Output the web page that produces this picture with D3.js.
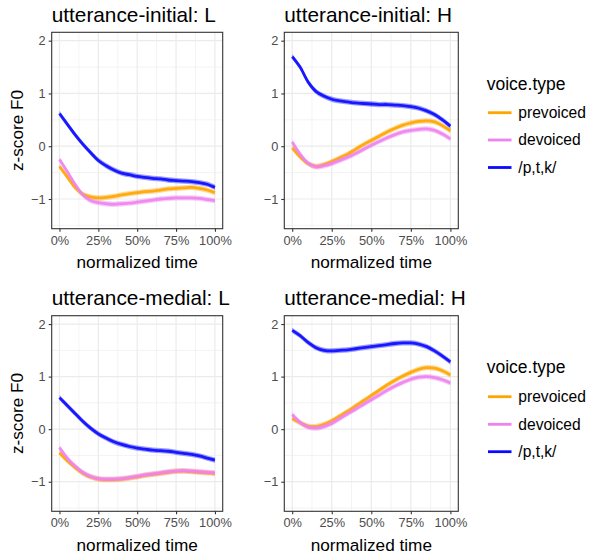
<!DOCTYPE html>
<html><head><meta charset="utf-8">
<script src="https://cdn.jsdelivr.net/npm/d3@7"></script>
<style>body{margin:0;background:#fff}svg{display:block}text{font-family:"Liberation Sans",Arial,sans-serif}</style>
</head><body><svg id="c" width="589" height="556"></svg>
<script>
const times = [0,5,10,15,20,25,30,35,40,45,50,55,60,65,70,75,80,85,90,95,100];
const seriesNames = ["prevoiced","devoiced","/p,t,k/"];
const seriesColors = ["#FFA500","#EE82EE","#0A0AFF"];
const panelTitles = ["utterance-initial: L","utterance-initial: H","utterance-medial: L","utterance-medial: H"];
const xTickValues = [0,25,50,75,100];
const xTickLabels = ["0%","25%","50%","75%","100%"];
const yTickValues = [-1,0,1,2];

// utterance-initial: L
const iniL_prevoiced = [-0.38,-0.58,-0.78,-0.91,-0.96,-0.98,-0.97,-0.95,-0.92,-0.90,-0.88,-0.86,-0.85,-0.83,-0.81,-0.80,-0.79,-0.78,-0.80,-0.83,-0.88];
const iniL_devoiced  = [-0.25,-0.48,-0.72,-0.92,-1.03,-1.07,-1.09,-1.10,-1.09,-1.08,-1.06,-1.04,-1.02,-1.00,-0.99,-0.98,-0.98,-0.98,-0.99,-1.01,-1.03];
const iniL_ptk       = [0.62,0.42,0.22,0.04,-0.12,-0.27,-0.37,-0.45,-0.51,-0.54,-0.57,-0.59,-0.61,-0.62,-0.64,-0.65,-0.66,-0.67,-0.69,-0.72,-0.78];
// utterance-initial: H
const iniH_prevoiced = [-0.03,-0.20,-0.33,-0.38,-0.35,-0.29,-0.22,-0.15,-0.06,0.03,0.11,0.19,0.27,0.34,0.40,0.44,0.47,0.48,0.46,0.39,0.29];
const iniH_devoiced  = [0.08,-0.15,-0.32,-0.39,-0.37,-0.33,-0.27,-0.21,-0.14,-0.06,0.02,0.09,0.16,0.22,0.27,0.30,0.32,0.33,0.30,0.23,0.14];
const iniH_ptk       = [1.70,1.50,1.22,1.04,0.95,0.89,0.86,0.84,0.82,0.81,0.80,0.79,0.79,0.78,0.77,0.75,0.72,0.67,0.60,0.50,0.38];
// utterance-medial: L
const medL_prevoiced = [-0.45,-0.60,-0.73,-0.84,-0.91,-0.95,-0.96,-0.96,-0.95,-0.93,-0.91,-0.88,-0.86,-0.84,-0.82,-0.80,-0.80,-0.81,-0.82,-0.83,-0.84];
const medL_devoiced  = [-0.35,-0.55,-0.70,-0.82,-0.90,-0.94,-0.95,-0.95,-0.94,-0.92,-0.90,-0.87,-0.85,-0.83,-0.81,-0.80,-0.79,-0.80,-0.81,-0.82,-0.83];
const medL_ptk       = [0.60,0.45,0.30,0.15,0.02,-0.09,-0.17,-0.24,-0.29,-0.33,-0.36,-0.38,-0.40,-0.41,-0.42,-0.44,-0.46,-0.48,-0.51,-0.55,-0.59];
// utterance-medial: H
const medH_prevoiced = [0.20,0.12,0.06,0.05,0.09,0.16,0.25,0.34,0.44,0.54,0.64,0.74,0.84,0.93,1.01,1.08,1.14,1.17,1.16,1.11,1.03];
const medH_devoiced  = [0.28,0.13,0.04,0.02,0.05,0.11,0.20,0.29,0.38,0.47,0.56,0.65,0.74,0.82,0.89,0.95,0.99,1.00,0.98,0.94,0.88];
const medH_ptk       = [1.88,1.78,1.65,1.55,1.50,1.49,1.50,1.51,1.53,1.55,1.57,1.59,1.61,1.63,1.64,1.64,1.62,1.57,1.49,1.39,1.28];

const panelData = [
  [iniL_prevoiced, iniL_devoiced, iniL_ptk],
  [iniH_prevoiced, iniH_devoiced, iniH_ptk],
  [medL_prevoiced, medL_devoiced, medL_ptk],
  [medH_prevoiced, medH_devoiced, medH_ptk]
];

const svg = d3.select("#c");
const font = '"Liberation Sans",Arial,sans-serif';
const panels = [
  {x0:51.7, x1:222.7, y0:32.3, y1:228.7, ylab:true},
  {x0:284.3, x1:458.3, y0:32.3, y1:228.7, ylab:false},
  {x0:51.7, x1:222.7, y0:315.7, y1:511.3, ylab:true},
  {x0:284.3, x1:458.3, y0:315.7, y1:511.3, ylab:false}
];
const ribbon = 0.05;

panels.forEach((p, i) => {
  const w = p.x1 - p.x0;
  const x = d3.scaleLinear().domain([-5, 105]).range([p.x0, p.x1]);
  const y = d3.scaleLinear().domain([-1.563, 2.159]).range([p.y1, p.y0]);
  const g = svg.append("g");
  g.append("rect").attr("x", p.x0).attr("y", p.y0).attr("width", w).attr("height", p.y1 - p.y0).attr("fill", "#fff");
  [12.5,37.5,62.5,87.5].forEach(v => g.append("line").attr("x1", x(v)).attr("x2", x(v)).attr("y1", p.y0).attr("y2", p.y1).attr("stroke", "#ebebeb").attr("stroke-width", 0.6));
  [-1.5,-0.5,0.5,1.5].forEach(v => g.append("line").attr("y1", y(v)).attr("y2", y(v)).attr("x1", p.x0).attr("x2", p.x1).attr("stroke", "#ebebeb").attr("stroke-width", 0.6));
  xTickValues.forEach(v => g.append("line").attr("x1", x(v)).attr("x2", x(v)).attr("y1", p.y0).attr("y2", p.y1).attr("stroke", "#ebebeb").attr("stroke-width", 1.2));
  yTickValues.forEach(v => g.append("line").attr("y1", y(v)).attr("y2", y(v)).attr("x1", p.x0).attr("x2", p.x1).attr("stroke", "#ebebeb").attr("stroke-width", 1.2));

  panelData[i].forEach((vals, s) => {
    const pts = times.map((t, k) => ({t, v: vals[k]}));
    const area = d3.area().x(d => x(d.t)).y0(d => y(d.v - ribbon)).y1(d => y(d.v + ribbon)).curve(d3.curveCatmullRom);
    g.append("path").attr("d", area(pts)).attr("fill", seriesColors[s]).attr("opacity", 0.4);
    const line = d3.line().x(d => x(d.t)).y(d => y(d.v)).curve(d3.curveCatmullRom);
    g.append("path").attr("d", line(pts)).attr("fill", "none").attr("stroke", seriesColors[s]).attr("stroke-width", 2.8).attr("opacity", 0.9);
  });

  g.append("rect").attr("x", p.x0).attr("y", p.y0).attr("width", w).attr("height", p.y1 - p.y0).attr("fill", "none").attr("stroke", "#333").attr("stroke-width", 1.1);

  const xa = d3.axisBottom(x).tickValues(xTickValues).tickFormat((d, k) => xTickLabels[k]).tickSize(3).tickPadding(2);
  const gx = svg.append("g").attr("transform", `translate(0,${p.y1})`).call(xa);
  const ya = d3.axisLeft(y).tickValues(yTickValues).tickFormat(d3.format("d")).tickSize(3).tickPadding(2);
  const gy = svg.append("g").attr("transform", `translate(${p.x0},0)`).call(ya);
  [gx, gy].forEach(a => {
    a.select(".domain").remove();
    a.selectAll(".tick line").attr("stroke", "#333").attr("stroke-width", 1.1);
    a.selectAll(".tick text").attr("fill", "#4d4d4d").style("font-family", font).style("font-size", "12.8px");
  });
  gx.selectAll(".tick text").attr("dy", "0.71em").attr("y", 7);
  gy.selectAll(".tick text").attr("x", -6);

  svg.append("text").attr("x", p.x0).attr("y", p.y0 - 10.5).text(panelTitles[i]).style("font-size", "20.8px").attr("fill", "#000");
  svg.append("text").attr("x", (x(0) + x(100)) / 2).attr("y", p.y1 + 39.5).attr("text-anchor", "middle").text("normalized time").style("font-size", "17.2px").attr("fill", "#000");
  if (p.ylab) {
    svg.append("text").attr("transform", `translate(23,${(p.y0 + p.y1) / 2}) rotate(-90)`).attr("text-anchor", "middle").text("z-score F0").style("font-size", "17.2px").attr("fill", "#000");
  }
});

[{ty:90, rows:[112.7,140,167.5]}, {ty:373, rows:[396.7,424.3,451.7]}].forEach(L => {
  svg.append("text").attr("x", 486.7).attr("y", L.ty).text("voice.type").style("font-size", "17.5px").attr("fill", "#000");
  seriesNames.forEach((n, s) => {
    svg.append("line").attr("x1", 488).attr("x2", 511.5).attr("y1", L.rows[s]).attr("y2", L.rows[s]).attr("stroke", seriesColors[s]).attr("stroke-width", 2.8);
    svg.append("text").attr("x", 518.3).attr("y", L.rows[s]).attr("dy", "0.35em").text(n).style("font-size", "15.6px").attr("fill", "#000");
  });
});
</script></body></html>
